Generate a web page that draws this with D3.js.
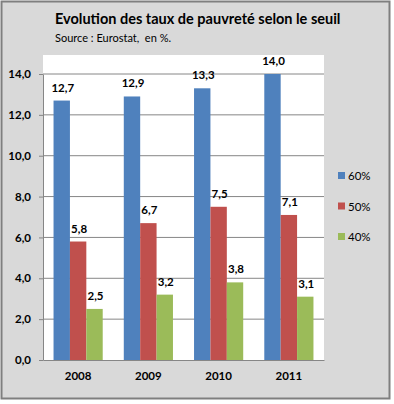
<!DOCTYPE html>
<html>
<head>
<meta charset="utf-8">
<script src="https://cdn.jsdelivr.net/npm/d3@7"></script>
<style>
  body { margin: 0; background: #fff; }
  text { font-family: Lato, "Open Sans", sans-serif; white-space: pre; }
</style>
</head>
<body>
<svg id="chart" width="394" height="404"></svg>
<script>
const years = ["2008", "2009", "2010", "2011"];
const seriesNames = ["60%", "50%", "40%"];
const seuil60 = [12.7, 12.9, 13.3, 14.0];
const seuil50 = [5.8, 6.7, 7.5, 7.1];
const seuil40 = [2.5, 3.2, 3.8, 3.1];
const yTicks = [0, 2, 4, 6, 8, 10, 12, 14];
const colors = ["#4f81bd", "#c0504d", "#9bbb59"];

const seriesValues = [seuil60, seuil50, seuil40];
const fmt = v => v.toFixed(1).replace(".", ",");

const svg = d3.select("#chart");
const plot = { left: 43, right: 324, top: 55, bottom: 360 };

// chart background + frame
svg.append("rect")
  .attr("x", 1.5).attr("y", 1.5)
  .attr("width", 388).attr("height", 397)
  .attr("fill", "#d9d9d9")
  .attr("stroke", "#7f7f7f")
  .attr("stroke-width", 2);

svg.append("rect")
  .attr("x", plot.left).attr("y", plot.top)
  .attr("width", plot.right - plot.left)
  .attr("height", plot.bottom - plot.top)
  .attr("fill", "#fff");

svg.append("text")
  .attr("x", 55).attr("y", 24)
  .attr("font-size", 14.5).attr("font-weight", "bold")
  .attr("fill", "#000")
  .text("Evolution des taux de pauvreté selon le seuil");

svg.append("text")
  .attr("x", 55).attr("y", 42)
  .attr("font-size", 11)
  .attr("fill", "#000")
  .text("Source : Eurostat,  en %.");

const x0 = d3.scaleBand()
  .domain(years)
  .range([plot.left, plot.right])
  .paddingInner(0.3)
  .paddingOuter(0.15);

const x1 = d3.scaleBand()
  .domain(seriesNames)
  .range([0, x0.bandwidth()]);

const y = d3.scaleLinear()
  .domain([0, 14])
  .range([plot.bottom, 74]);

// gridlines
svg.append("g")
  .selectAll("line")
  .data(yTicks.filter(d => d > 0))
  .enter()
  .append("line")
  .attr("x1", plot.left).attr("x2", plot.right)
  .attr("y1", d => y(d)).attr("y2", d => y(d))
  .attr("stroke", "#868686")
  .attr("stroke-width", 1);

// y axis
const yAxis = svg.append("g")
  .attr("transform", `translate(${plot.left},0)`)
  .call(d3.axisLeft(y).tickValues(yTicks).tickFormat(fmt).tickSize(4).tickSizeOuter(0));
yAxis.select(".domain").attr("stroke", "#868686");
yAxis.selectAll(".tick line").attr("stroke", "#868686");
yAxis.selectAll("text")
  .attr("font-size", 11.5).attr("font-weight", "bold")
  .attr("fill", "#000").attr("x", -12)
  .style("font-family", "Lato, sans-serif");

// bars
const groups = svg.append("g")
  .selectAll("g")
  .data(years)
  .enter()
  .append("g")
  .attr("transform", d => `translate(${x0(d)},0)`);

groups.selectAll("rect")
  .data((yr, i) => seriesNames.map((s, j) => ({ s, j, v: seriesValues[j][i] })))
  .enter()
  .append("rect")
  .attr("x", d => x1(d.s))
  .attr("y", d => y(d.v))
  .attr("width", x1.bandwidth())
  .attr("height", d => y(0) - y(d.v))
  .attr("fill", d => colors[d.j]);

groups.selectAll("text")
  .data((yr, i) => seriesNames.map((s, j) => ({ s, j, v: seriesValues[j][i] })))
  .enter()
  .append("text")
  .attr("x", d => x1(d.s) + x1.bandwidth() / 2 + 1)
  .attr("y", d => y(d.v) - 9)
  .attr("text-anchor", "middle")
  .attr("font-size", 11.5).attr("font-weight", "bold")
  .attr("fill", "#000")
  .text(d => fmt(d.v));

// x axis
const xAxis = svg.append("g")
  .attr("transform", `translate(0,${plot.bottom})`)
  .call(d3.axisBottom(x0).tickSize(0).tickPadding(12));
xAxis.select(".domain").attr("stroke", "#868686");
xAxis.selectAll("text")
  .attr("font-size", 11.5).attr("font-weight", "bold")
  .attr("fill", "#000")
  .style("font-family", "Lato, sans-serif");

// legend
const legend = svg.append("g")
  .selectAll("g")
  .data(seriesNames)
  .enter()
  .append("g")
  .attr("transform", (d, i) => `translate(338,${176 + i * 30.5})`);

legend.append("rect")
  .attr("x", 0).attr("y", -4)
  .attr("width", 7).attr("height", 7)
  .attr("fill", (d, i) => colors[i]);

legend.append("text")
  .attr("x", 10).attr("y", 4)
  .attr("font-size", 11.5)
  .attr("fill", "#000")
  .text(d => d);
</script>
</body>
</html>
